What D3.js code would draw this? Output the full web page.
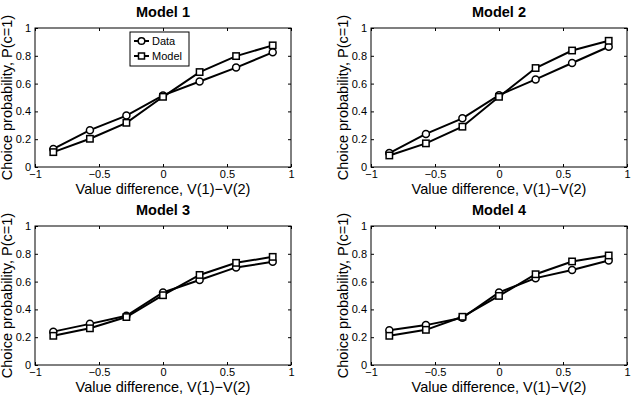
<!DOCTYPE html>
<html>
<head>
<meta charset="utf-8">
<script src="https://cdn.jsdelivr.net/npm/d3@7"></script>
<style>
  body { margin: 0; background: #fff; }
  svg { display: block; }
  text { font-family: "Liberation Sans", Arial, sans-serif; fill: #000; }
</style>
</head>
<body>
<svg id="chart" width="633" height="398"></svg>
<script>
"use strict";

// value differences (7 bins)
var xVals = [-0.857, -0.571, -0.286, 0, 0.286, 0.571, 0.857];
var titles = ["Model 1", "Model 2", "Model 3", "Model 4"];

var data1 = [0.13, 0.265, 0.37, 0.515, 0.615, 0.715, 0.825];
var model1 = [0.107, 0.203, 0.318, 0.505, 0.683, 0.798, 0.875];
var data2 = [0.10, 0.238, 0.350, 0.517, 0.630, 0.748, 0.865];
var model2 = [0.083, 0.170, 0.290, 0.505, 0.712, 0.838, 0.908];
var data3 = [0.240, 0.296, 0.354, 0.522, 0.612, 0.702, 0.742];
var model3 = [0.210, 0.264, 0.345, 0.502, 0.648, 0.735, 0.778];
var data4 = [0.250, 0.287, 0.340, 0.522, 0.625, 0.684, 0.752];
var model4 = [0.210, 0.253, 0.347, 0.497, 0.653, 0.745, 0.788];

var xTicks = [-1, -0.5, 0, 0.5, 1];
var yTicks = [0, 0.2, 0.4, 0.6, 0.8, 1];

var panels = [
	{ title: titles[0], data: data1, model: model1, left: 35, top: 28, legend: true },
	{ title: titles[1], data: data2, model: model2, left: 371, top: 28, legend: false },
	{ title: titles[2], data: data3, model: model3, left: 35, top: 226, legend: false },
	{ title: titles[3], data: data4, model: model4, left: 371, top: 226, legend: false }
];

var W = 256, H = 139;
var svg = d3.select("#chart");

function fmt(v) {
	return String(v).replace("-", "\u2212");
}

function drawPanel(p) {
	var g = svg.append("g").attr("transform", "translate(" + p.left + "," + p.top + ")");
	var x = d3.scaleLinear().domain([-1, 1]).range([0, W]);
	var y = d3.scaleLinear().domain([0, 1]).range([H, 0]);

	// ticks on all four sides, inside
	g.append("g").attr("transform", "translate(0," + H + ")")
		.call(d3.axisBottom(x).tickValues(xTicks).tickSize(-3).tickPadding(3).tickFormat(fmt))
		.call(styleAxis);
	g.append("g")
		.call(d3.axisTop(x).tickValues(xTicks).tickSize(-3).tickFormat(""))
		.call(styleAxis);
	g.append("g")
		.call(d3.axisLeft(y).tickValues(yTicks).tickSize(-3).tickPadding(4).tickFormat(fmt))
		.call(styleAxis);
	g.append("g").attr("transform", "translate(" + W + ",0)")
		.call(d3.axisRight(y).tickValues(yTicks).tickSize(-3).tickFormat(""))
		.call(styleAxis);

	g.selectAll(".domain").remove();
	g.append("rect").attr("width", W).attr("height", H)
		.attr("fill", "none").attr("stroke", "#000").attr("stroke-width", 1);

	var line = d3.line()
		.x(function(d, i) { return x(xVals[i]); })
		.y(function(d) { return y(d); });

	[p.data, p.model].forEach(function(s) {
		g.append("path").datum(s).attr("d", line)
			.attr("fill", "none").attr("stroke", "#000").attr("stroke-width", 2);
	});

	g.selectAll("circle.pt").data(p.data).enter().append("circle")
		.attr("class", "pt")
		.attr("cx", function(d, i) { return x(xVals[i]); })
		.attr("cy", function(d) { return y(d); })
		.attr("r", 3.5)
		.attr("fill", "#fff").attr("stroke", "#000").attr("stroke-width", 1.5);

	g.selectAll("rect.pt").data(p.model).enter().append("rect")
		.attr("class", "pt")
		.attr("x", function(d, i) { return x(xVals[i]) - 3.2; })
		.attr("y", function(d) { return y(d) - 3.2; })
		.attr("width", 6.4).attr("height", 6.4)
		.attr("fill", "#fff").attr("stroke", "#000").attr("stroke-width", 1.5);

	g.append("text").attr("x", W / 2).attr("y", -11)
		.attr("text-anchor", "middle").attr("font-size", 14.5).attr("font-weight", "bold")
		.text(p.title);

	g.append("text").attr("x", W / 2).attr("y", H + 27)
		.attr("text-anchor", "middle").attr("font-size", 14.5)
		.text("Value difference, V(1)\u2212V(2)");

	g.append("text")
		.attr("transform", "translate(-23," + (H / 2) + ") rotate(-90)")
		.attr("text-anchor", "middle").attr("font-size", 14.5)
		.text("Choice probability, P(c=1)");

	if (p.legend) drawLegend(g);
}

function styleAxis(sel) {
	sel.selectAll("text").attr("font-size", 11)
		.attr("font-family", "Liberation Sans, Arial, sans-serif").attr("fill", "#000");
	sel.selectAll("line").attr("stroke", "#000");
}

function drawLegend(g) {
	var lg = g.append("g").attr("transform", "translate(95,4)");
	lg.append("rect").attr("width", 59).attr("height", 34)
		.attr("fill", "#fff").attr("stroke", "#000").attr("stroke-width", 1);
	var items = ["Data", "Model"];
	items.forEach(function(name, i) {
		var cy = 9 + i * 15;
		lg.append("line").attr("x1", 4).attr("x2", 19).attr("y1", cy).attr("y2", cy)
			.attr("stroke", "#000").attr("stroke-width", 2);
		if (i === 0) {
			lg.append("circle").attr("cx", 11.5).attr("cy", cy).attr("r", 3.3)
				.attr("fill", "#fff").attr("stroke", "#000").attr("stroke-width", 1.5);
		} else {
			lg.append("rect").attr("x", 8.5).attr("y", cy - 3).attr("width", 6).attr("height", 6)
				.attr("fill", "#fff").attr("stroke", "#000").attr("stroke-width", 1.5);
		}
		lg.append("text").attr("x", 22).attr("y", cy + 4).attr("font-size", 11).text(name);
	});
}

panels.forEach(drawPanel);
</script>
</body>
</html>
